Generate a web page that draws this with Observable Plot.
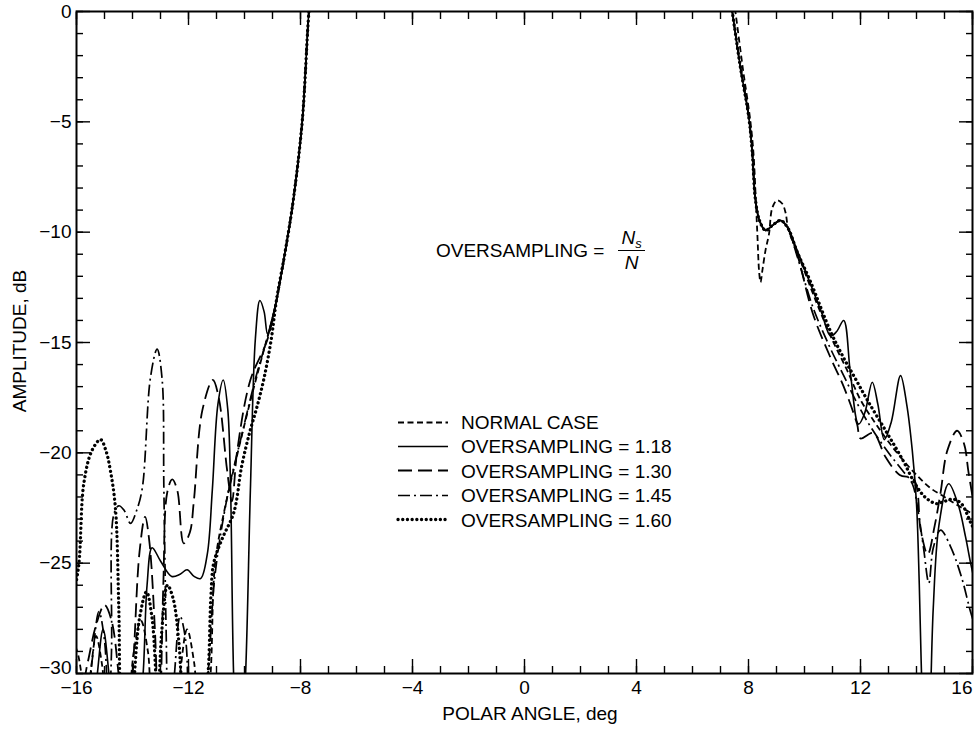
<!DOCTYPE html>
<html><head><meta charset="utf-8">
<script src="https://cdn.jsdelivr.net/npm/d3@7"></script>
<script src="https://cdn.jsdelivr.net/npm/@observablehq/plot@0.6"></script>
<style>
body{margin:0;background:#fff;font-family:"Liberation Sans",Arial,Helvetica,sans-serif;}
#wrap{position:relative;width:974px;height:731px;overflow:hidden;}
.ov{position:absolute;font-size:19px;color:#000;white-space:nowrap;line-height:1;}
</style></head><body><div id="wrap"></div>
<script>
// ---- tick labels ----
const xMajorTicks = [-16, -12, -8, -4, 0, 4, 8, 12, 16];
const yMajorTicks = [0, -5, -10, -15, -20, -25, -30];
const legendLabels = ["NORMAL CASE", "OVERSAMPLING = 1.18", "OVERSAMPLING = 1.30", "OVERSAMPLING = 1.45", "OVERSAMPLING = 1.60"];

// ---- shared main lobe (angle deg, amplitude dB) ----
const mainLeftX = [-8.86, -8.54, -8.26, -7.94, -7.70, -7.55, 0];
const mainLeftY = [-13.1, -10.83, -8.57, -5.0, 0, 2, 25];
const mainRightX = [7.2, 7.42, 7.71, 8.01, 8.13, 8.25, 8.4, 8.61, 8.85, 9.14, 9.4];
const mainRightY = [2, 0, -2.52, -4.79, -6.3, -8.56, -9.5, -9.92, -9.7, -9.47, -9.8];

// ---- NORMAL CASE ----
const normalLeftX = [-16.2, -16.0, -15.85, -15.7, -15.5, -15.3, -15.1, -14.9, -14.6, -14.2, -13.95, -13.7, -13.45, -13.25, -12.6, -12.3, -12.05, -11.8, -11.6, -11.3, -11.05, -10.7, -10.3, -9.8, -9.3, -9.0];
const normalLeftY = [-28.4, -28.9, -29.8, -32, -30, -28.3, -29.5, -32, -34, -32, -29, -27.6, -29, -32, -34, -30, -28, -29.5, -32, -31, -25, -22.5, -20.3, -17.7, -15.3, -13.9];
const normalRightX = [7.3, 7.53, 7.8, 8.05, 8.17, 8.26, 8.32, 8.38, 8.43, 8.5, 8.61, 8.73, 8.85, 9.02, 9.2, 9.32, 9.43, 9.8, 10.4, 11.0, 11.5, 12.0, 12.5, 13.0, 13.5, 14.0, 14.5, 15.0, 15.5, 16.2];
const normalRightY = [2, 0, -2.6, -4.8, -6.3, -8.5, -10.2, -11.8, -12.27, -11.7, -10.8, -10.1, -8.9, -8.56, -8.7, -9.1, -9.9, -11.1, -13.1, -14.9, -16.2, -17.6, -18.6, -19.5, -20.3, -21.0, -21.6, -22.0, -22.4, -22.9];

// ---- OVERSAMPLING = 1.18 ----
const os118LeftX = [-16.2, -15.6, -15.3, -15.05, -14.8, -14.55, -14.1, -13.85, -13.62, -13.48, -13.3, -13.0, -12.6, -12.3, -12.05, -11.8, -11.57, -11.33, -11.15, -10.95, -10.76, -10.6, -10.5, -10.39, -10.2, -9.96, -9.79, -9.61, -9.45, -9.3, -9.18, -9.05];
const os118LeftY = [-33, -33, -30.5, -28.0, -30.5, -33, -33, -33, -30, -26, -24.3, -24.9, -25.6, -25.5, -25.3, -25.6, -25.7, -24.6, -21.7, -17.8, -16.7, -18.0, -21.4, -30, -36, -30, -21.7, -14.8, -13.1, -13.6, -14.6, -14.1];
const os118RightX = [9.74, 10.2, 10.6, 10.93, 11.15, 11.4, 11.64, 11.93, 12.15, 12.42, 12.62, 12.85, 13.1, 13.43, 13.65, 13.85, 14.0, 14.1, 14.2, 14.35, 14.5, 14.6, 14.8, 15.15, 15.5, 15.75, 15.95, 16.2];
const os118RightY = [-10.83, -12.3, -13.6, -14.7, -14.5, -14.0, -16.4, -18.7, -18.2, -16.8, -17.8, -19.4, -18.6, -16.5, -17.8, -19.9, -22.3, -26, -31, -36, -31, -27, -23.3, -21.4, -22.4, -23.8, -25.1, -26.5];

// ---- OVERSAMPLING = 1.30 ----
const os130LeftX = [-16.2, -15.8, -15.6, -15.3, -15.0, -14.75, -14.5, -14.3, -14.1, -13.95, -13.75, -13.55, -13.4, -13.2, -13.05, -12.9, -12.76, -12.58, -12.4, -12.17, -11.95, -11.81, -11.51, -11.13, -10.92, -10.62, -10.45, -10.26, -9.79, -9.19];
const os130LeftY = [-31, -30.5, -29.5, -27.8, -26.9, -27.6, -30, -33, -32, -29, -24.5, -22.9, -24.0, -28, -33, -26, -21.8, -21.2, -21.7, -24.1, -23.6, -22.2, -18.1, -16.7, -17.5, -20.8, -22.2, -19.9, -16.7, -14.9];
const os130RightX = [9.74, 10.3, 10.9, 11.4, 11.88, 12.0, 12.45, 12.9, 13.4, 13.9, 14.15, 14.4, 14.65, 14.86, 15.1, 15.45, 15.7, 15.86, 16.2];
const os130RightY = [-11.0, -13.7, -15.6, -17.0, -18.7, -19.35, -19.1, -20.2, -21.0, -21.2, -23.5, -24.6, -23.3, -21.8, -19.9, -19.0, -19.6, -20.9, -23.5];

// ---- OVERSAMPLING = 1.45 ----
const os145LeftX = [-16.2, -15.7, -15.45, -15.2, -15.0, -14.85, -14.75, -14.67, -14.49, -14.3, -14.07, -13.85, -13.65, -13.36, -13.12, -12.94, -12.88, -12.8, -12.7, -12.5, -12.3, -12.1, -11.95, -11.6, -11.3, -11.05, -10.6, -10.1, -9.6, -9.1];
const os145LeftY = [-32, -32, -29.5, -27.2, -28.5, -32, -29, -22.8, -22.4, -22.6, -23.2, -22.6, -21.6, -16.6, -15.3, -16.7, -21.6, -28, -33, -30, -27.4, -28.5, -32, -34, -30, -25.5, -21.9, -19.2, -16.6, -14.4];
const os145RightX = [9.74, 10.3, 10.9, 11.4, 11.9, 12.4, 13.0, 13.5, 13.85, 14.05, 14.25, 14.44, 14.6, 14.86, 15.2, 15.6, 15.93, 16.2];
const os145RightY = [-11.1, -13.4, -15.2, -16.5, -17.8, -18.9, -20.0, -20.8, -21.4, -22.6, -24.3, -25.9, -24.3, -23.5, -24.2, -25.6, -27.2, -28.3];

// ---- OVERSAMPLING = 1.60 ----
const os160LeftX = [-16.2, -15.93, -15.74, -15.45, -15.14, -14.95, -14.79, -14.61, -14.49, -14.4, -14.25, -14.0, -13.75, -13.5, -13.3, -13.1, -12.95, -12.75, -12.55, -12.35, -12.18, -12.0, -11.6, -11.3, -11.2, -11.1, -10.8, -10.38, -10.1, -9.8, -9.55, -9.3, -9.05];
const os160LeftY = [-27.0, -25.2, -21.4, -19.9, -19.4, -19.9, -20.8, -22.5, -27, -32, -33, -31, -27.5, -26.3, -27.5, -31, -28, -26.0, -26.6, -28.5, -32, -34, -34, -30, -26.5, -25.0, -23.9, -22.7, -20.6, -19.0, -17.9, -16.6, -14.9];
const os160RightX = [9.74, 10.2, 10.93, 11.4, 11.8, 12.24, 12.9, 13.5, 13.95, 14.3, 14.7, 15.0, 15.3, 15.6, 15.95, 16.2];
const os160RightY = [-10.9, -12.2, -14.5, -15.7, -16.6, -17.6, -19.0, -20.3, -21.4, -22.0, -22.3, -22.2, -22.1, -22.3, -23.2, -23.8];

// ---- build tables ----
const pts = (xs, ys) => xs.map((x, i) => ({x, y: ys[i]}));
const series = [
  [...pts(normalLeftX, normalLeftY), ...pts(mainLeftX, mainLeftY), ...pts(normalRightX, normalRightY)],
  [...pts(os118LeftX, os118LeftY), ...pts(mainLeftX, mainLeftY), ...pts(mainRightX, mainRightY), ...pts(os118RightX, os118RightY)],
  [...pts(os130LeftX, os130LeftY), ...pts(mainLeftX, mainLeftY), ...pts(mainRightX, mainRightY), ...pts(os130RightX, os130RightY)],
  [...pts(os145LeftX, os145LeftY), ...pts(mainLeftX, mainLeftY), ...pts(mainRightX, mainRightY), ...pts(os145RightX, os145RightY)],
  [...pts(os160LeftX, os160LeftY), ...pts(mainLeftX, mainLeftY), ...pts(mainRightX, mainRightY), ...pts(os160RightX, os160RightY)]
];

const lineStyles = [
  {strokeDasharray: "6,3.5", strokeWidth: 1.8, strokeLinecap: "butt"},
  {strokeDasharray: null, strokeWidth: 1.6, strokeLinecap: "butt"},
  {strokeDasharray: "14,6", strokeWidth: 1.8, strokeLinecap: "butt"},
  {strokeDasharray: "12,4,2,4", strokeWidth: 1.7, strokeLinecap: "butt"},
  {strokeDasharray: "0.1,4.6", strokeWidth: 3.3, strokeLinecap: "round"}
];

const xMinor = d3.range(-16, 17, 1);
const yMinor = d3.range(-30, 1, 1);
const blank = () => "";
const tickOpts = {tickFormat: blank, label: null, strokeWidth: 1.4};
const lastX = xMajorTicks[xMajorTicks.length - 1];
const lastY = yMajorTicks[yMajorTicks.length - 1];

const chart = Plot.plot({
  width: 974,
  height: 731,
  marginLeft: 76,
  marginRight: 2,
  marginTop: 11,
  marginBottom: 58,
  style: {fontFamily: '"Liberation Sans", Arial, Helvetica, sans-serif', fontSize: "19px", background: "white", color: "black"},
  x: {domain: [-16, 16]},
  y: {domain: [-30, 0]},
  marks: [
    ...series.map((d, i) => Plot.line(d, {x: "x", y: "y", curve: "catmull-rom", clip: true, stroke: "black", ...lineStyles[i]})),
    Plot.axisX({ticks: xMajorTicks.filter((t) => t !== lastX), anchor: "bottom", tickSize: 0, tickPadding: 7, label: null, fontSize: 19}),
    Plot.axisX({ticks: [lastX], anchor: "bottom", tickSize: 0, tickPadding: 7, label: null, fontSize: 19, textAnchor: "end"}),
    Plot.axisY({ticks: yMajorTicks.filter((t) => t !== lastY), anchor: "left", tickSize: 0, tickPadding: 5, label: null, fontSize: 19}),
    Plot.axisY({ticks: [lastY], anchor: "left", tickSize: 0, tickPadding: 5, label: null, fontSize: 19, dy: -6}),
    Plot.axisX({ticks: xMajorTicks, anchor: "bottom", tickSize: -14, ...tickOpts}),
    Plot.axisX({ticks: xMinor, anchor: "bottom", tickSize: -7, ...tickOpts}),
    Plot.axisX({ticks: xMajorTicks, anchor: "top", tickSize: -13, ...tickOpts}),
    Plot.axisX({ticks: xMinor, anchor: "top", tickSize: -7, ...tickOpts}),
    Plot.axisY({ticks: yMajorTicks, anchor: "left", tickSize: -14, ...tickOpts}),
    Plot.axisY({ticks: yMinor, anchor: "left", tickSize: -7, ...tickOpts}),
    Plot.axisY({ticks: yMajorTicks, anchor: "right", tickSize: -14, ...tickOpts}),
    Plot.axisY({ticks: yMinor, anchor: "right", tickSize: -7, ...tickOpts}),
    Plot.frame({stroke: "black", strokeWidth: 2})
  ]
});

const wrap = document.getElementById("wrap");
wrap.appendChild(chart);

function addDiv(html, css) {
  const d = document.createElement("div");
  d.className = "ov";
  d.style.cssText = css;
  d.innerHTML = html;
  wrap.appendChild(d);
  return d;
}

// axis titles
addDiv("POLAR ANGLE, deg", "left:530px;top:713px;transform:translate(-50%,-50%);");
addDiv("AMPLITUDE, dB", "left:19px;top:341px;transform:translate(-50%,-50%) rotate(-90deg);");

// annotation
addDiv('<span>OVERSAMPLING =</span>' +
  '<span style="display:inline-flex;flex-direction:column;align-items:center;margin-left:14px;font-style:italic;">' +
  '<span style="padding:0 3px 3px;border-bottom:1.5px solid #000;">N<span style="font-size:13px;position:relative;top:4px;">s</span></span>' +
  '<span style="padding-top:2px;">N</span></span>',
  "left:436px;top:250px;transform:translateY(-50%);display:flex;align-items:center;");

// legend
legendLabels.forEach((label, i) => {
  const s = lineStyles[i];
  const dash = s.strokeDasharray ? `stroke-dasharray="${s.strokeDasharray}"` : "";
  const svg = `<svg width="54" height="8" style="display:block"><line x1="2" y1="4" x2="52" y2="4" stroke="black" stroke-width="${s.strokeWidth}" stroke-linecap="${s.strokeLinecap}" ${dash}/></svg>`;
  addDiv(svg + `<span style="margin-left:11px;">${label}</span>`,
    `left:396px;top:${422 + i * 24.4}px;transform:translateY(-50%);display:flex;align-items:center;`);
});
</script></body></html>
